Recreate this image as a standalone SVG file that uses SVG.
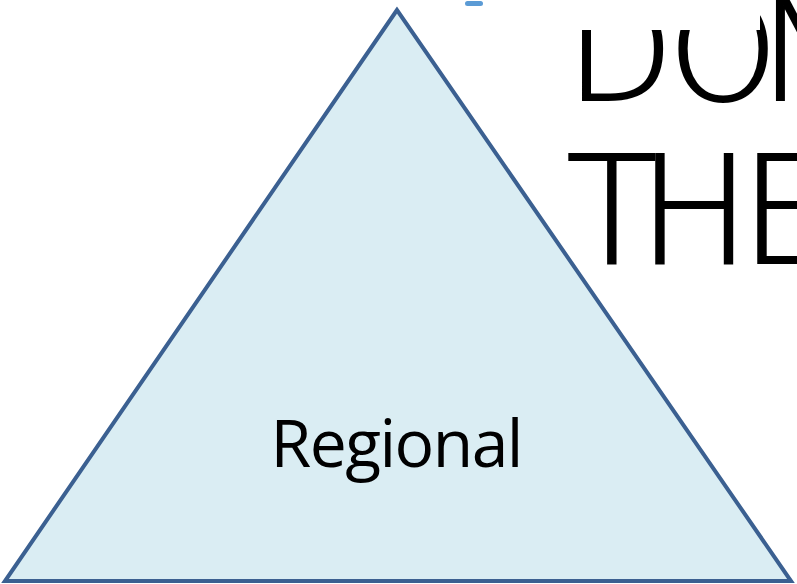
<svg xmlns="http://www.w3.org/2000/svg" width="797" height="584" viewBox="0 0 797 584">
<defs>
<style>
.ink{font-family:"DejaVu Sans","Liberation Sans",sans-serif;font-weight:200;fill:#000;stroke:#000;stroke-width:2;}
.lbl{font-family:"Open Sans","Liberation Sans",sans-serif;font-size:66px;fill:#000;text-anchor:middle;}
</style>
<clipPath id="cp"><rect x="0" y="30" width="797" height="554"/><rect x="760" y="0" width="37" height="30"/></clipPath>
</defs>
<rect width="797" height="584" fill="#fff"/>
<g id="handwriting" clip-path="url(#cp)">
<text class="ink" x="566 668 760" y="100" font-size="140">DON</text>
<text class="ink" x="566 638 740" y="263" font-size="150">THE</text>
</g>
<rect x="465" y="1" width="18" height="5" rx="2.5" fill="#5B9BD5"/>
<g id="regional">
<polygon points="397,10 5,581 791,581" fill="#DAEDF3" stroke="#3B6091" stroke-width="4" stroke-linejoin="miter"/>
<text class="lbl" x="397" y="467" textLength="253">Regional</text>
</g>
</svg>
